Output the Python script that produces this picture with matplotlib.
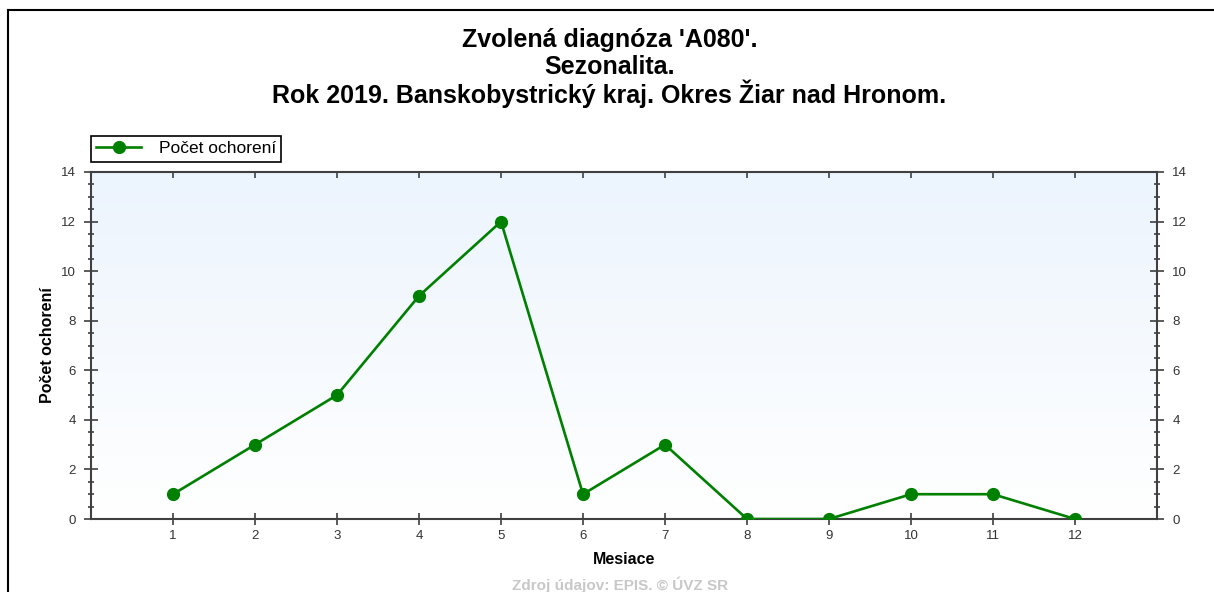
#!/usr/bin/env python

# Seasonality chart - A080, okres Ziar nad Hronom, 2019

import numpy as np
import matplotlib.pyplot as plt
from matplotlib.lines import Line2D
from matplotlib.ticker import MultipleLocator

plt.rcParams['font.family'] = ['Liberation Sans', 'DejaVu Sans']

# Data
months = [1, 2, 3, 4, 5, 6, 7, 8, 9, 10, 11, 12]
cases = [1, 3, 5, 9, 12, 1, 3, 0, 0, 1, 1, 0]

title_lines = ["Zvolená diagnóza 'A080'.",
               "Sezonalita.",
               "Rok 2019. Banskobystrický kraj. Okres Žiar nad Hronom."]
legend_label = 'Počet ochorení'
xlabel = 'Mesiace'
ylabel = 'Počet ochorení'
source = 'Zdroj údajov: EPIS. © ÚVZ SR'

GREEN = '#008000'
SPINE = '#404040'
TICKLAB = '#333333'

fig = plt.figure(figsize=(12.14, 5.92), dpi=100)
ax = fig.add_axes([91/1214, 1 - 519/592, (1157 - 91)/1214, (519 - 172)/592])

# Gradient background
grad = np.linspace(0, 1, 256).reshape(-1, 1)
top = np.array([0.925, 0.957, 0.993])
bot = np.array([1.0, 1.0, 1.0])
img = top[None, None, :] * (1 - grad[:, :, None]) + bot[None, None, :] * grad[:, :, None]
ax.imshow(img, extent=[0, 13, 0, 14], aspect='auto', origin='upper', zorder=0)

ax.plot(months, cases, color=GREEN, linewidth=1.9, marker='o',
        markersize=8.5, label=legend_label, zorder=3)

ax.set_xlim(0, 13)
ax.set_ylim(0, 14)
ax.set_xticks(months)
ax.yaxis.set_major_locator(MultipleLocator(2))
ax.yaxis.set_minor_locator(MultipleLocator(0.5))

for s in ax.spines.values():
    s.set_color(SPINE)
    s.set_linewidth(1.5)

ax.tick_params(axis='y', which='major', direction='inout', length=10, width=1.2,
               color=SPINE, left=True, right=True, labelleft=True,
               labelright=True, labelsize=9.5, labelcolor=TICKLAB, pad=6)
ax.tick_params(axis='y', which='minor', direction='inout', length=5, width=1.2,
               color=SPINE, left=True, right=True)
ax.tick_params(axis='x', which='major', direction='inout', length=8.5, width=1.2,
               color=SPINE, labelsize=9.5, labelcolor=TICKLAB, pad=4)

# top ticks pointing inward only
secx = ax.secondary_xaxis('top')
secx.set_xticks(months)
secx.tick_params(direction='in', length=4.5, width=1.2, color=SPINE, labeltop=False)
secx.spines['top'].set_visible(False)

ax.set_xlabel(xlabel, fontsize=11.5, fontweight='bold', labelpad=7)
ax.set_ylabel(ylabel, fontsize=11.5, fontweight='bold', labelpad=4)

leg = ax.legend(loc='lower left', bbox_to_anchor=(0, 1.03), borderaxespad=0,
                fancybox=False, framealpha=1, edgecolor='black', fontsize=12.5,
                handlelength=2.6, borderpad=0.3, handletextpad=1.0)
leg.get_frame().set_linewidth(1.2)

# Title
for i, line in enumerate(title_lines):
    fig.text(0.502, 1 - (40 + 27 * i)/592, line, ha='center', va='center',
             fontsize=18, fontweight='bold')

fig.text(0.511, 1 - 585/592, source, ha='center', va='center',
         fontsize=11, fontweight='bold', color='#c8c8c8')

# Outer frame
fig.add_artist(Line2D([8/1214, 8/1214], [0, 1 - 10/592], color='black',
                      linewidth=1.5, transform=fig.transFigure))
fig.add_artist(Line2D([8/1214, 1], [1 - 10/592, 1 - 10/592], color='black',
                      linewidth=1.5, transform=fig.transFigure))

fig.savefig('out.png', dpi=100)
